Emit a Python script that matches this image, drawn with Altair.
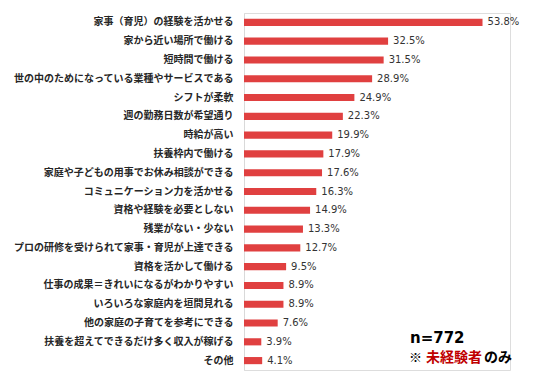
import altair as alt
import pandas as pd

categories = [
    "家事（育児）の経験を活かせる",
    "家から近い場所で働ける",
    "短時間で働ける",
    "世の中のためになっている業種やサービスである",
    "シフトが柔軟",
    "週の勤務日数が希望通り",
    "時給が高い",
    "扶養枠内で働ける",
    "家庭や子どもの用事でお休み相談ができる",
    "コミュニケーション力を活かせる",
    "資格や経験を必要としない",
    "残業がない・少ない",
    "プロの研修を受けられて家事・育児が上達できる",
    "資格を活かして働ける",
    "仕事の成果＝きれいになるがわかりやすい",
    "いろいろな家庭内を垣間見れる",
    "他の家庭の子育てを参考にできる",
    "扶養を超えてできるだけ多く収入が稼げる",
    "その他",
]
values = [53.8, 32.5, 31.5, 28.9, 24.9, 22.3, 19.9, 17.9, 17.6, 16.3,
          14.9, 13.3, 12.7, 9.5, 8.9, 8.9, 7.6, 3.9, 4.1]
labels = [f"{v:.1f}%" for v in values]

note_texts = ["n=772", "※", "未経験者", "のみ"]
note_colors = ["#000000", "#000000", "#C00000", "#000000"]

df = pd.DataFrame({"cat": categories, "val": values, "lab": labels})

W, H = 266, 357

y_enc = alt.Y("cat:N", sort=categories, title=None,
              scale=alt.Scale(paddingInner=0.62, paddingOuter=0.31),
              axis=alt.Axis(ticks=False, domainColor="#d9d9d9", labelPadding=11,
                            labelFont="Noto Sans CJK JP", labelFontSize=10,
                            labelFontWeight="bold", labelColor="#262626",
                            labelLimit=400))
x_enc = alt.X("val:Q", scale=alt.Scale(domain=[0, 60]), axis=None)

bars = alt.Chart(df).mark_bar(color="#E04040").encode(x=x_enc, y=y_enc)
texts = alt.Chart(df).mark_text(align="left", dx=5, font="DejaVu Sans",
                                fontSize=10, color="#333333").encode(
    x=x_enc, y=alt.Y("cat:N", sort=categories), text="lab:N")

def note(i, x, y, font="Noto Sans CJK JP", size=14):
    return alt.Chart(pd.DataFrame({"t": [note_texts[i]]})).mark_text(
        align="left", baseline="middle", font=font,
        fontSize=size, fontWeight="bold", color=note_colors[i]).encode(
        x=alt.value(x), y=alt.value(y), text="t:N")

notes = (note(0, 166, 325, font="DejaVu Sans", size=15)
         + note(1, 165, 345, size=13)
         + note(2, 182, 345)
         + note(3, 240, 345))

chart = (bars + texts + notes).properties(width=W, height=H).configure_view(
    stroke=None).configure(background="white")

chart.save("out.html", embed_options={"renderer": "svg", "actions": False})
